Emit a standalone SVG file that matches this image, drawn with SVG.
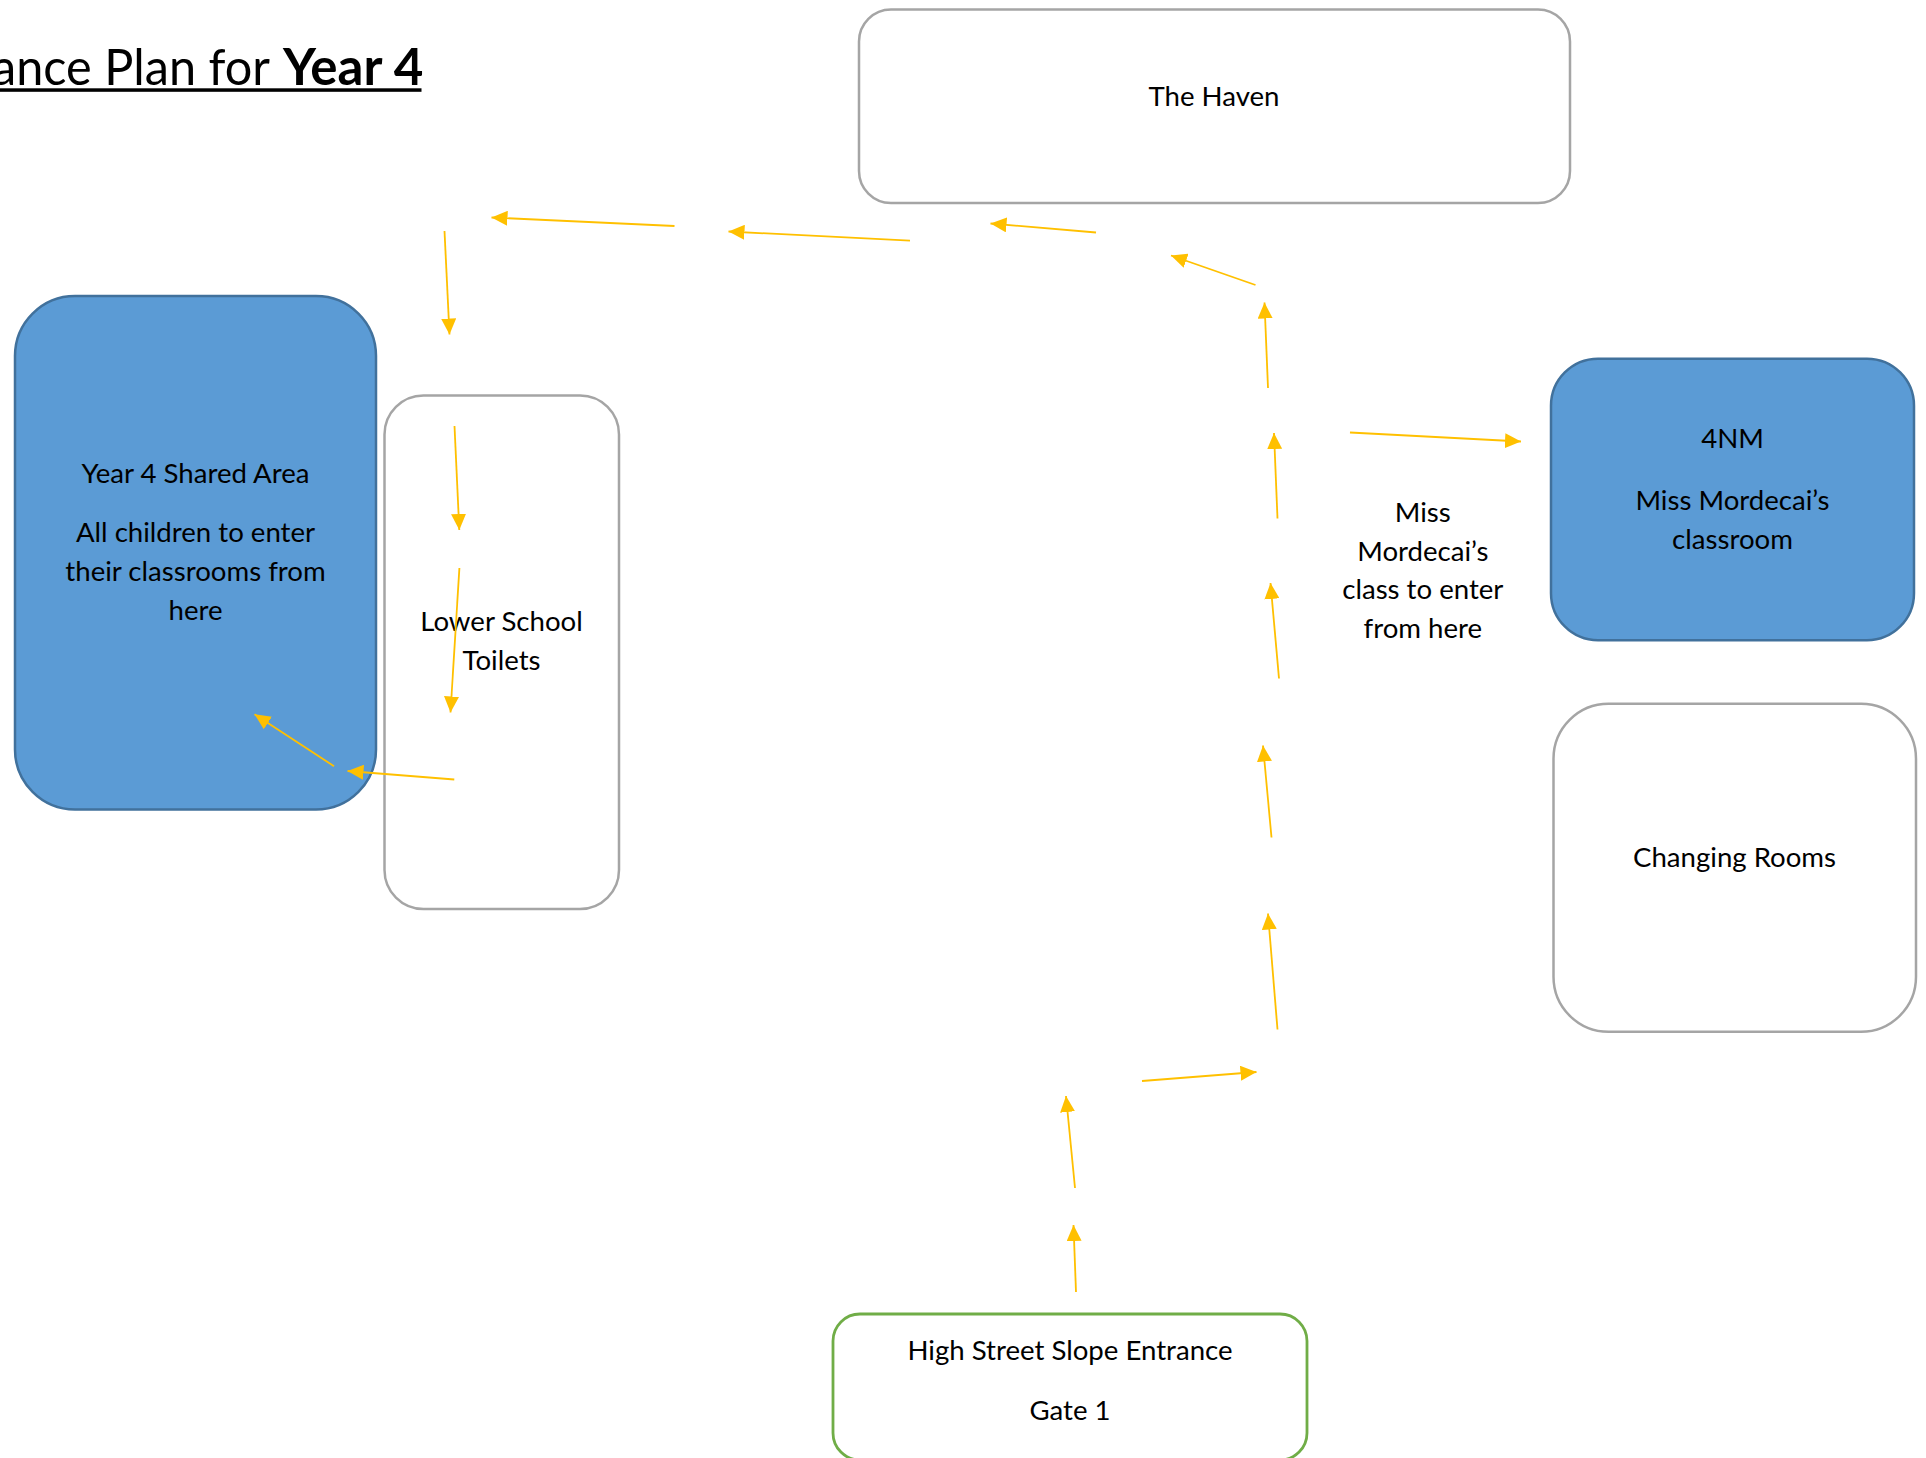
<svg xmlns="http://www.w3.org/2000/svg" width="1926" height="1458" viewBox="0 0 1926 1458">
  <style>
    .t { font-family: Lato, "Open Sans", "Liberation Sans", sans-serif; font-size: 27.6px; fill: #000; text-anchor: middle; }
    .blue { fill: #5B9BD5; stroke: #41719C; stroke-width: 2.5; }
    .gray { fill: #FFFFFF; stroke: #A5A5A5; stroke-width: 2.5; }
    .green { fill: #FFFFFF; stroke: #70AD47; stroke-width: 2.8; }
    .arr { stroke: #FFC000; stroke-width: 1.8; fill: none; marker-end: url(#ah); }
    .title { font-family: Lato, "Open Sans", "Liberation Sans", sans-serif; font-size: 51px; fill: #000; }
  </style>
  <defs>
    <marker id="ah" viewBox="0 0 16 15" refX="16" refY="7.5" markerWidth="16" markerHeight="15" markerUnits="userSpaceOnUse" orient="auto">
      <path d="M0,0 L16,7.5 L0,15 z" fill="#FFC000"/>
    </marker>
  </defs>
  <rect width="1926" height="1458" fill="#FFFFFF"/>

  <g id="title">
    <text class="title" x="-8" y="85" textLength="278" lengthAdjust="spacingAndGlyphs">ance Plan for</text>
    <text class="title" x="283" y="85" font-weight="bold">Year 4</text>
    <rect x="0" y="88.3" width="421.5" height="3.5" fill="#000"/>
  </g>

  <g id="the-haven">
    <rect class="gray" x="859" y="9.5" width="711" height="193.5" rx="32" ry="32"/>
    <text class="t" x="1214" y="105.5">The Haven</text>
  </g>

  <g id="year4-shared-area">
    <rect class="blue" x="15" y="296" width="361" height="513.5" rx="60" ry="60"/>
    <text class="t" x="195.5" y="482.5">Year 4 Shared Area</text>
    <text class="t" x="195.5" y="542">All children to enter</text>
    <text class="t" x="195.5" y="580.8">their classrooms from</text>
    <text class="t" x="195.5" y="619.6">here</text>
  </g>

  <g id="lower-school-toilets">
    <rect class="gray" x="384.5" y="395.5" width="234.5" height="513.5" rx="39" ry="39"/>
    <text class="t" x="501.5" y="631">Lower School</text>
    <text class="t" x="501.5" y="669.8">Toilets</text>
  </g>

  <g id="class-4nm">
    <rect class="blue" x="1551" y="358.7" width="363" height="281.5" rx="47" ry="47"/>
    <text class="t" x="1732.5" y="448.3">4NM</text>
    <text class="t" x="1732.5" y="509.6">Miss Mordecai’s</text>
    <text class="t" x="1732.5" y="548.6">classroom</text>
  </g>

  <g id="changing-rooms">
    <rect class="gray" x="1553.5" y="703.8" width="362.5" height="328" rx="55" ry="55"/>
    <text class="t" x="1734.5" y="867">Changing Rooms</text>
  </g>

  <g id="gate-1">
    <rect class="green" x="833" y="1314" width="474" height="146" rx="27" ry="27"/>
    <text class="t" x="1070" y="1359.5">High Street Slope Entrance</text>
    <text class="t" x="1070" y="1419.5">Gate 1</text>
  </g>

  <g id="note-miss-mordecai">
    <text class="t" x="1422.8" y="521.5">Miss</text>
    <text class="t" x="1422.8" y="560.5">Mordecai’s</text>
    <text class="t" x="1422.8" y="599.2">class to enter</text>
    <text class="t" x="1422.8" y="637.8">from here</text>
  </g>

  <g id="connectors">
    <line class="arr" x1="1076" y1="1292" x2="1073.5" y2="1225"/>
    <line class="arr" x1="1075" y1="1188" x2="1066" y2="1096"/>
    <line class="arr" x1="1142" y1="1081" x2="1256.5" y2="1072"/>
    <line class="arr" x1="1277.5" y1="1029.5" x2="1268" y2="913.5"/>
    <line class="arr" x1="1271.5" y1="837.5" x2="1263" y2="745.5"/>
    <line class="arr" x1="1279" y1="678.5" x2="1270.5" y2="583"/>
    <line class="arr" x1="1277.5" y1="518.5" x2="1274" y2="433"/>
    <line class="arr" x1="1350" y1="432.5" x2="1521" y2="441.5"/>
    <line class="arr" x1="1268" y1="388" x2="1264.5" y2="302.5"/>
    <line class="arr" x1="1255.5" y1="285" x2="1171" y2="255.5"/>
    <line class="arr" x1="1096" y1="232.5" x2="990.5" y2="223.5"/>
    <line class="arr" x1="910" y1="240.7" x2="728.5" y2="231.5"/>
    <line class="arr" x1="674.5" y1="226" x2="491.5" y2="217.5"/>
    <line class="arr" x1="444.5" y1="231" x2="449.5" y2="334.5"/>
    <line class="arr" x1="454.5" y1="426" x2="459.3" y2="530"/>
    <line class="arr" x1="459.4" y1="568" x2="450.5" y2="712.5"/>
    <line class="arr" x1="454.3" y1="779.5" x2="347.5" y2="771"/>
    <line class="arr" x1="334" y1="766.2" x2="254.5" y2="714.2"/>
  </g>
</svg>
